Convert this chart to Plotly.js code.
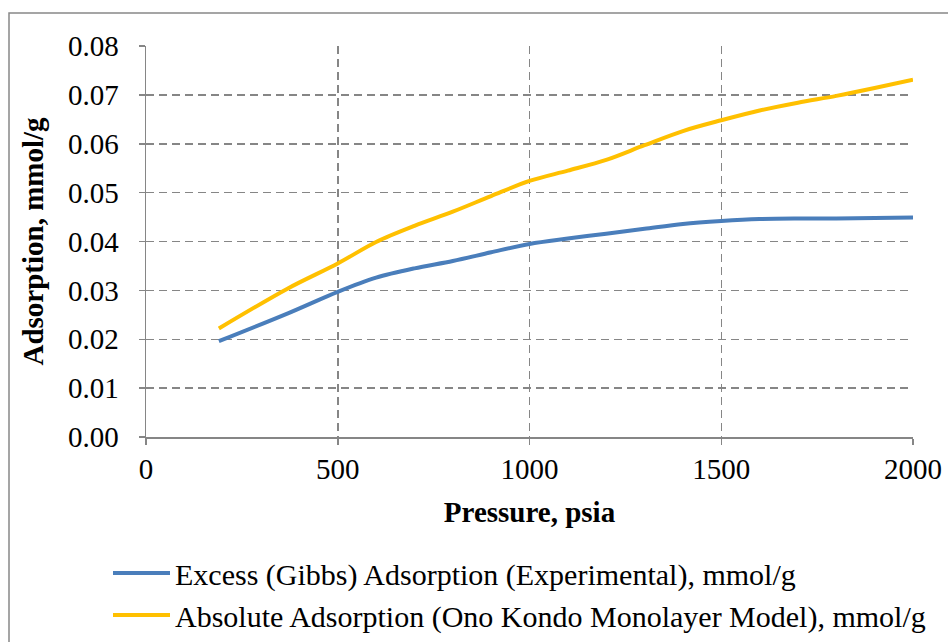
<!DOCTYPE html>
<html>
<head>
<meta charset="utf-8">
<script src="https://cdn.plot.ly/plotly-3.0.1.min.js"></script>
<style>html,body{margin:0;padding:0;background:#fff;}#chart{width:948px;height:642px;}</style>
</head>
<body>
<div id="chart"></div>
<script>
const pressure = [190, 370, 500, 600, 700, 800, 900, 1000, 1100, 1200, 1300, 1400, 1500, 1600, 1700, 1800, 1900, 2000];
const excessAds = [0.0196, 0.0253, 0.0297, 0.0326, 0.0345, 0.0360, 0.0378, 0.0395, 0.0406, 0.0416, 0.0426, 0.0436, 0.0442, 0.0446, 0.0447, 0.0447, 0.0448, 0.0449];
const absoluteAds = [0.0222, 0.0304, 0.0355, 0.0399, 0.0432, 0.0461, 0.0493, 0.0524, 0.0545, 0.0567, 0.0597, 0.0626, 0.0648, 0.0668, 0.0684, 0.0698, 0.0714, 0.0731];
const seriesNames = ["Excess (Gibbs) Adsorption (Experimental), mmol/g", "Absolute Adsorption (Ono Kondo Monolayer Model), mmol/g"];
const xTitle = "Pressure, psia";
const yTitle = "Adsorption, mmol/g";

const W = 948, H = 642;
const font = "Liberation Serif";
const traces = [
  {x: pressure, y: excessAds, name: seriesNames[0], mode: "lines", line: {color: "#4a7ebb", width: 4, shape: "spline", smoothing: 0.9}},
  {x: pressure, y: absoluteAds, name: seriesNames[1], mode: "lines", line: {color: "#ffc000", width: 4, shape: "spline", smoothing: 0.9}}
];
const layout = {
  width: W, height: H,
  margin: {l: 0, r: 0, t: 0, b: 0, pad: 0},
  paper_bgcolor: "#fff", plot_bgcolor: "#fff",
  font: {family: font, color: "#000", size: 29},
  showlegend: true,
  legend: {x: 108 / W, y: (H - 547) / H, xanchor: "left", yanchor: "top", font: {family: font, size: 30, color: "#000"}, tracegroupgap: 0, itemwidth: 57, bgcolor: "rgba(0,0,0,0)"},
  xaxis: {
    domain: [146 / W, 913 / W],
    range: [0, 2000], dtick: 500, tick0: 0, automargin: false,
    showgrid: true, gridcolor: "#868686", griddash: "8px,5px", gridwidth: 1.5,
    showline: true, linecolor: "#868686", linewidth: 1.5,
    ticks: "outside", ticklen: 6, tickcolor: "#868686", tickwidth: 1.5,
    zeroline: false,
    tickfont: {family: font, size: 29, color: "#000"},
    title: {text: "<b>" + xTitle + "</b>", font: {family: font, size: 29, color: "#000"}, standoff: 17}
  },
  yaxis: {
    domain: [(H - 437) / H, (H - 46) / H],
    range: [0, 0.08], dtick: 0.01, tick0: 0, tickformat: ".2f", automargin: false,
    showgrid: true, gridcolor: "#868686", griddash: "8px,5px", gridwidth: 1.5,
    showline: true, linecolor: "#868686", linewidth: 1.5,
    ticks: "outside", ticklen: 6, tickcolor: "#868686", tickwidth: 1.5,
    ticklabelstandoff: 14,
    zeroline: false,
    tickfont: {family: font, size: 29, color: "#000"},
    title: {text: "<b>" + yTitle + "</b>", font: {family: font, size: 29, color: "#000"}, standoff: 16}
  },
  shapes: [{type: "rect", xref: "paper", yref: "paper", x0: 9 / W, x1: 1.05, y0: -0.05, y1: (H - 13) / H, line: {color: "#888", width: 1.5}, fillcolor: "rgba(0,0,0,0)", layer: "below"}]
};
Plotly.newPlot("chart", traces, layout, {displayModeBar: false, staticPlot: true});
</script>
</body>
</html>
